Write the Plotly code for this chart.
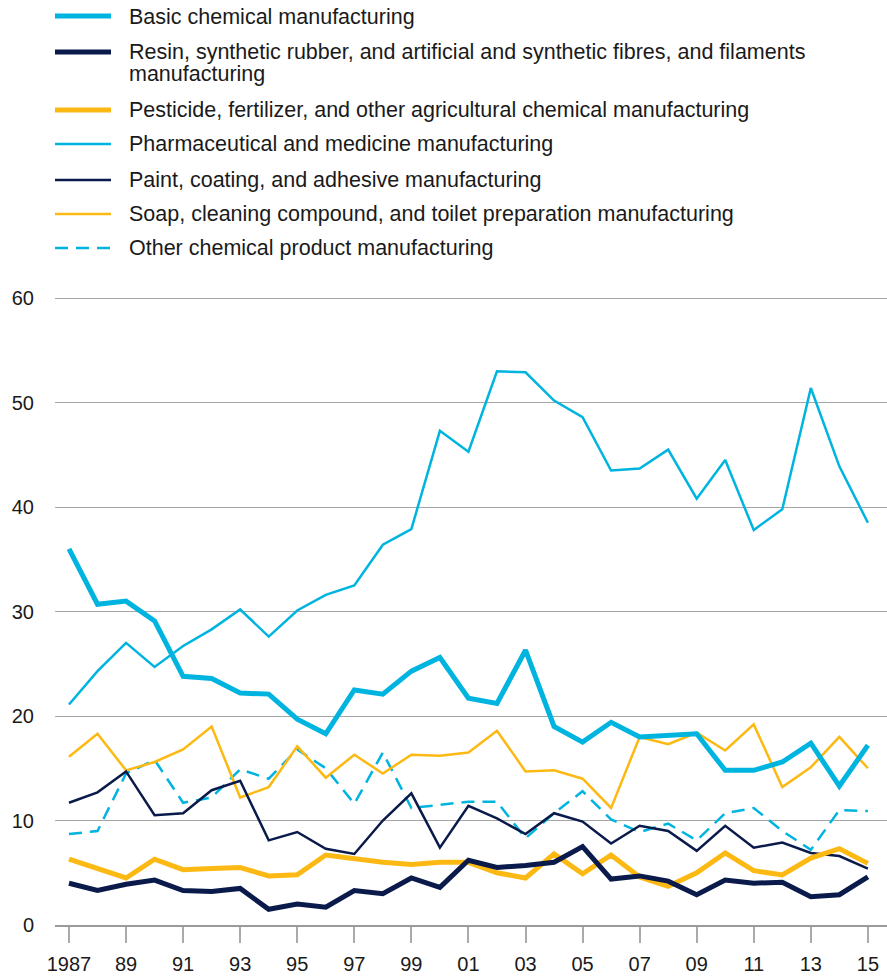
import plotly.graph_objects as go

years = list(range(1987, 2016))

basic = [36.0, 30.7, 31.0, 29.1, 23.8, 23.6, 22.2, 22.1, 19.7, 18.3, 22.5, 22.1, 24.3, 25.6,
         21.7, 21.2, 26.3, 19.0, 17.5, 19.4, 18.0, 18.2, 18.3, 14.8, 14.8, 15.6, 17.4, 13.3, 17.2]
resin = [4.0, 3.3, 3.9, 4.3, 3.3, 3.2, 3.5, 1.5, 2.0, 1.7, 3.3, 3.0, 4.5, 3.6,
         6.2, 5.5, 5.7, 6.0, 7.5, 4.4, 4.7, 4.2, 2.9, 4.3, 4.0, 4.1, 2.7, 2.9, 4.6]
pesticide = [6.3, 5.4, 4.5, 6.3, 5.3, 5.4, 5.5, 4.7, 4.8, 6.7, 6.3, 6.0, 5.8, 6.0,
             6.0, 5.0, 4.5, 6.8, 4.9, 6.7, 4.6, 3.7, 5.0, 6.9, 5.2, 4.8, 6.4, 7.3, 5.9]
pharma = [21.1, 24.3, 27.0, 24.7, 26.7, 28.3, 30.2, 27.6, 30.1, 31.6, 32.5, 36.4, 37.9, 47.3,
          45.3, 53.0, 52.9, 50.2, 48.6, 43.5, 43.7, 45.5, 40.8, 44.5, 37.8, 39.8, 51.4, 43.9, 38.5]
paint = [11.7, 12.7, 14.7, 10.5, 10.7, 12.9, 13.8, 8.1, 8.9, 7.3, 6.8, 10.0, 12.6, 7.4,
         11.4, 10.2, 8.7, 10.7, 9.9, 7.8, 9.5, 9.0, 7.1, 9.5, 7.4, 7.9, 6.9, 6.6, 5.4]
soap = [16.1, 18.3, 14.8, 15.6, 16.8, 19.0, 12.2, 13.2, 17.1, 14.1, 16.3, 14.5, 16.3, 16.2,
        16.5, 18.6, 14.7, 14.8, 14.0, 11.2, 18.0, 17.3, 18.4, 16.7, 19.2, 13.2, 15.1, 18.0, 15.0]
other = [8.7, 9.0, 14.5, 15.8, 11.7, 12.2, 14.9, 14.0, 16.8, 15.0, 11.6, 16.5, 11.2, 11.5,
         11.8, 11.8, 8.3, 10.7, 12.8, 10.1, 8.9, 9.7, 8.1, 10.7, 11.2, 9.0, 7.2, 11.0, 10.9]

tick_vals = list(range(1987, 2016, 2))
tick_text = ["1987", "89", "91", "93", "95", "97", "99", "01", "03", "05", "07", "09", "11", "13", "15"]

CYAN = "#00B4E0"
NAVY = "#0A1A4A"
GOLD = "#FDB913"
DASH = "13px,8px"

series = [
    ("Basic chemical manufacturing", basic, CYAN, 5, "solid"),
    ("Resin, synthetic rubber, and artificial and synthetic fibres, and filaments", resin, NAVY, 5, "solid"),
    ("Pesticide, fertilizer, and other agricultural chemical manufacturing", pesticide, GOLD, 5, "solid"),
    ("Pharmaceutical and medicine manufacturing", pharma, CYAN, 2.5, "solid"),
    ("Paint, coating, and adhesive manufacturing", paint, NAVY, 2.5, "solid"),
    ("Soap, cleaning compound, and toilet preparation manufacturing", soap, GOLD, 2.5, "solid"),
    ("Other chemical product manufacturing", other, CYAN, 2.5, DASH),
]

fig = go.Figure()
draw_order = [6, 5, 4, 3, 2, 1, 0]
for i in draw_order:
    name, vals, col, w, dash = series[i]
    fig.add_trace(go.Scatter(x=years, y=vals, mode="lines", name=name,
                             line=dict(color=col, width=w, dash=dash), showlegend=False,
                             hoverinfo="skip"))

# page body margin is removed by post_script, so figure covers the whole viewport
FW, FH = 887, 979
# plot area in page pixels
PL, PT, PB = 55, 295, 925
W, H = FW - PL, PB - PT

def px(x):
    return (x - PL) / W
def py(y):
    return (PB - y) / H

legend_rows = [16, 52, 110, 144, 180, 214, 248]
text_rows = [17, 52, 110, 144, 180, 214, 248]
for (name, vals, col, w, dash), ry, ty in zip(series, legend_rows, text_rows):
    fig.add_shape(type="line", xref="paper", yref="paper",
                  x0=px(55), x1=px(111), y0=py(ry), y1=py(ry),
                  line=dict(color=col, width=w, dash=dash))
    fig.add_annotation(xref="paper", yref="paper", x=px(128), y=py(ty),
                       text=name, showarrow=False, xanchor="left", yanchor="middle",
                       align="left", borderpad=0, font=dict(size=21.5, color="#1a1a1a"))
fig.add_annotation(xref="paper", yref="paper", x=px(128), y=py(74),
                   text="manufacturing", showarrow=False, xanchor="left", yanchor="middle",
                   align="left", borderpad=0, font=dict(size=21.5, color="#1a1a1a"))

fig.update_layout(
    width=FW, height=FH,
    margin=dict(l=PL, r=0, t=PT, b=FH - PB),
    paper_bgcolor="white", plot_bgcolor="white",
    font=dict(family="Liberation Sans, Arial, sans-serif", size=20, color="#1a1a1a"),
    showlegend=False,
)
fig.update_xaxes(range=[1986.51, 2015.67], tickvals=tick_vals, ticktext=tick_text,
                 showgrid=False, zeroline=False, showline=True, linecolor="#9a9a9a", linewidth=2,
                 ticks="outside", ticklen=16, tickcolor="#aaaaaa", tickwidth=1.5,
                 ticklabelstandoff=4, tickfont=dict(size=20, color="#1a1a1a"))
fig.update_yaxes(range=[0, 60.3], tickvals=[0, 10, 20, 30, 40, 50, 60],
                 showgrid=True, gridcolor="#a6a6a6", gridwidth=1, zeroline=False,
                 showline=False, ticks="", ticklabelstandoff=20,
                 tickfont=dict(size=20, color="#1a1a1a"))

fig.write_html("out.html", config={"displayModeBar": False},
               post_script="document.body.style.margin='0';document.body.style.overflow='hidden';")
